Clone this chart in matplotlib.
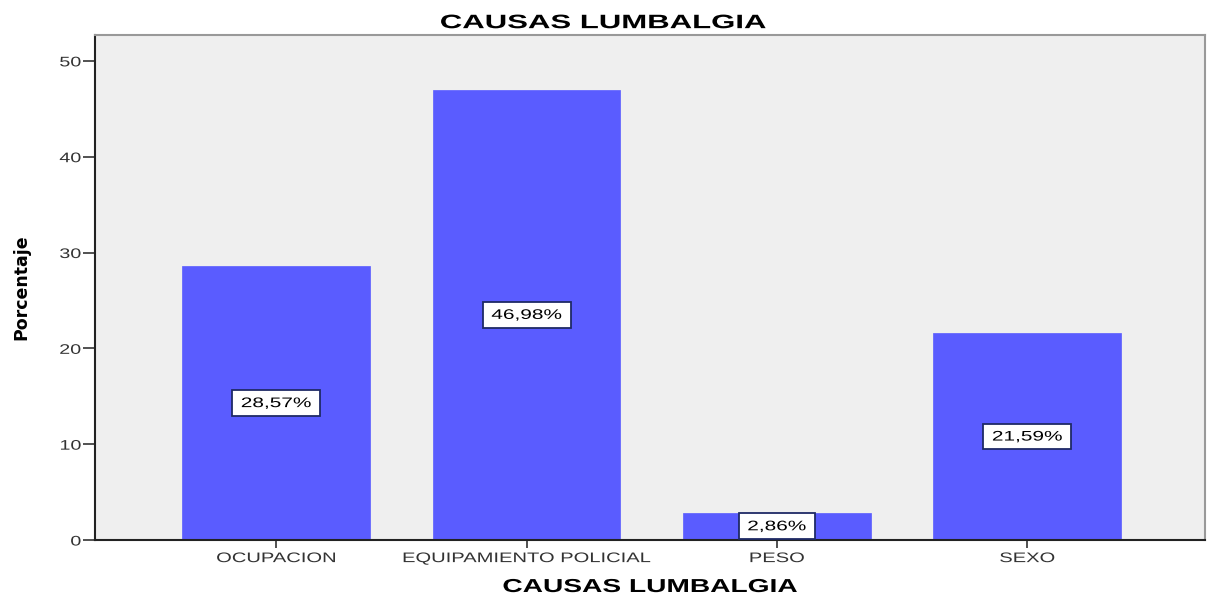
import matplotlib
matplotlib.use("Agg")
import matplotlib.pyplot as plt
from matplotlib.patheffects import AbstractPathEffect
from matplotlib.transforms import Affine2D

categories = ["OCUPACION", "EQUIPAMIENTO POLICIAL", "PESO", "SEXO"]
values = [28.57, 46.98, 2.86, 21.59]
labels = ["28,57%", "46,98%", "2,86%", "21,59%"]
yticks = [0, 10, 20, 30, 40, 50]


class HStretch(AbstractPathEffect):
    """Stretch rendered text/patch horizontally (in its own local frame)."""

    def __init__(self, sx, anchor="center"):
        super().__init__()
        self.sx = sx
        self.anchor = anchor

    def draw_path(self, renderer, gc, tpath, affine, rgbFace=None):
        ext = tpath.get_extents()
        if self.anchor == "right":
            cx = ext.x1
        elif self.anchor == "left":
            cx = ext.x0
        else:
            cx = (ext.x0 + ext.x1) / 2
        t = Affine2D().translate(-cx, 0).scale(self.sx, 1).translate(cx, 0) + affine
        renderer.draw_path(gc, tpath, t, rgbFace)


FONT = "Liberation Sans"

fig = plt.figure(figsize=(12.07, 5.99), dpi=100)
ax = fig.add_axes([0.0787, 0.0985, 0.9196, 0.8431])
ax.set_facecolor("#efefef")

x = list(range(len(categories)))
ax.bar(x, values, width=0.75, color="#5a5cff", edgecolor="#5a5cff", linewidth=0.5, zorder=2)
for xi, v, lab in zip(x, values, labels):
    t = ax.text(xi, v / 2, lab, ha="center", va="center", fontsize=10, color="black",
                family=FONT,
                bbox=dict(boxstyle="square,pad=0.42", facecolor="white", edgecolor="#1f2a66", linewidth=1.3),
                zorder=3)
    t.set_path_effects([HStretch(1.5)])
    t.get_bbox_patch().set_path_effects([HStretch(1.5)])

ax.set_xlim(-0.724, 3.71)
ax.set_ylim(0, 52.7)
ax.set_xticks(x)
ax.set_xticklabels(categories, fontsize=10, color="#333333", family=FONT)
ax.set_yticks(yticks)
ax.set_yticklabels([str(t) for t in yticks], fontsize=10, color="#333333", family=FONT)
ax.tick_params(axis="x", length=6, width=1.2, color="#333333", direction="out", pad=2)
ax.tick_params(axis="y", length=9, width=1.2, color="#333333", direction="out", pad=1)
for lab in ax.get_xticklabels():
    lab.set_path_effects([HStretch(1.45)])
for lab in ax.get_yticklabels():
    lab.set_path_effects([HStretch(1.42, anchor="right")])

for side in ["left", "bottom"]:
    ax.spines[side].set_color("#222222")
    ax.spines[side].set_linewidth(1.5)
for side in ["top", "right"]:
    ax.spines[side].set_color("#999999")
    ax.spines[side].set_linewidth(1.5)

title = fig.text(0.5, 0.953, "CAUSAS LUMBALGIA", ha="center", va="baseline",
                 fontsize=14, fontweight="bold", family=FONT)
title.set_path_effects([HStretch(1.6)])
xl = ax.set_xlabel("CAUSAS LUMBALGIA", fontsize=13.5, fontweight="bold", family=FONT, labelpad=10)
xl.set_path_effects([HStretch(1.5)])
ax.set_ylabel("Porcentaje", fontsize=12.5, fontweight="bold", family="Liberation Sans Narrow", labelpad=25)

fig.savefig("out.png", dpi=100)
